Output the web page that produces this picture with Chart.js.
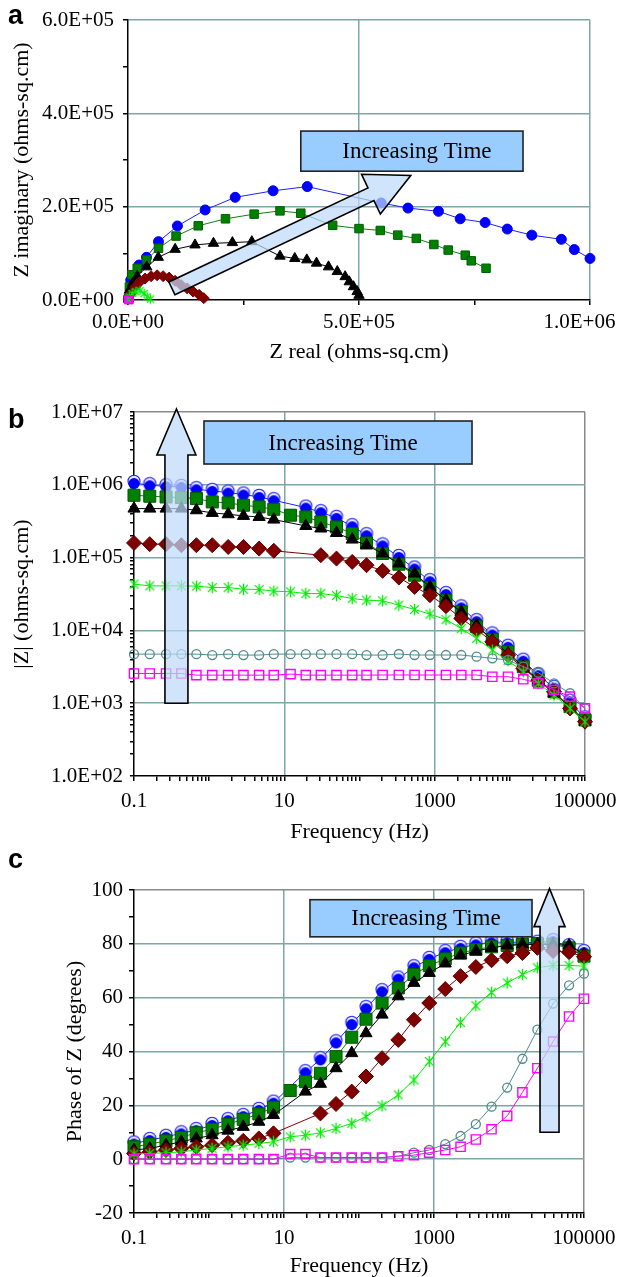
<!DOCTYPE html>
<html><head><meta charset="utf-8">
<script src="https://cdn.jsdelivr.net/npm/chart.js@4/dist/chart.umd.min.js"></script>
<style>
body{margin:0;background:#fff;width:624px;height:1277px;position:relative;overflow:hidden}
canvas{position:absolute;left:0}
.lbl{position:absolute;font:bold 27px Arial,"Liberation Sans",sans-serif;line-height:27px;color:#000}
</style></head><body>
<canvas id="ca" width="624" height="375" style="top:0px"></canvas>
<canvas id="cb" width="624" height="470" style="top:380px"></canvas>
<canvas id="cc" width="624" height="427" style="top:850px"></canvas>
<div class="lbl" style="left:8px;top:2px">a</div>
<div class="lbl" style="left:8px;top:406px">b</div>
<div class="lbl" style="left:8px;top:846px">c</div>
<script>
// ---------- DATA ----------
// Panel a (Nyquist): Z real / Z imaginary (ohms-sq.cm)
const blueRe  = [1000, 6000, 24000, 40000, 66000, 107000, 167000, 232000, 314000, 388000, 548000, 606000, 672000, 719000, 773000, 821000, 874000, 938000, 966000, 1000000];
const blueIm  = [5000, 43000, 75000, 91500, 125000, 158600, 193000, 220000, 234000, 243000, 208000, 197000, 190000, 174000, 166000, 152000, 139000, 130000, 108000, 89000];
const greenRe = [1000, 3000, 8000, 20000, 40000, 66000, 104000, 152000, 211000, 273000, 329000, 374000, 443000, 500000, 546000, 584000, 624000, 662000, 693000, 730000, 743000, 775000];
const greenIm = [3000, 28000, 54000, 68000, 86000, 111000, 137000, 159000, 174000, 184000, 191000, 186000, 160000, 153000, 149000, 139000, 132000, 119000, 107000, 96000, 84000, 68000];
const blackRe = [1000, 3000, 10000, 20000, 40500, 65600, 102000, 145000, 185000, 226000, 268000, 329000, 361000, 387000, 408000, 434000, 453000, 470000, 479000, 488000, 496000, 500000];
const blackIm = [2000, 21000, 36000, 51000, 71000, 91500, 108600, 118000, 121500, 123000, 125000, 94000, 89000, 86000, 79000, 71000, 61000, 50000, 39000, 28500, 18000, 10000];
const redRe   = [1000, 7000, 15600, 26000, 37000, 50000, 63000, 76000, 89000, 102000, 115000, 128000, 141000, 154000, 164000];
const redIm   = [2000, 14000, 28000, 39000, 46000, 51000, 53000, 51000, 48000, 41000, 32000, 25000, 18000, 11000, 4000];
const starRe  = [1000, 2600, 8700, 17000, 26000, 35000, 41500, 48500];
const starIm  = [1000, 7000, 14000, 18000, 20000, 14000, 7000, 2000];
const tealRe  = [300, 1500, 3000, 4200, 4700];
const tealIm  = [50, 1200, 1800, 1200, 300];
const magRe   = [200, 1200, 2200, 2500];
const magIm   = [50, 600, 500, 100];

// Panels b and c: frequency (Hz)
const freqHz = [0.1, 0.162, 0.267, 0.427, 0.676, 1.10, 1.79, 2.86, 4.62, 7.24, 12.1, 19.3, 30.6, 49.4, 80, 124, 203, 334, 540, 865, 1413, 2260, 3614, 5850, 9460, 15100, 23900, 38700, 63200, 100000];

// Panel b: |Z| (ohms-sq.cm)
const blueMod  = [1060000, 986000, 955000, 935000, 869000, 824000, 782000, 735000, 681000, 614000, null, 486000, 420000, 351000, 270000, 203000, 147000, 102000, 70800, 47400, 31500, 20700, 13400, 8790, 5960, 3830, 2430, 1630, 1050, 617];
const greenMod = [718000, 697000, 681000, 667000, 647000, 582000, 564000, 524000, 497000, 461000, 382000, 362000, 309000, 264000, 214000, 159000, 114000, 81100, 57300, 38800, 26000, 18000, 11200, 7520, 5080, 3170, 2070, 1440, 895, 589];
const blackMod = [471000, 471000, 471000, 471000, 447000, 411000, 394000, 374000, 362000, 333000, null, 272000, 251000, 218000, 177000, 148000, 114000, 83000, 60400, 39600, 26000, 18000, 11800, 7360, 4820, 3170, 2070, 1360, 895, 557];
const redMod   = [159000, 153000, 153000, 148000, 148000, 148000, 140000, 140000, 133000, 124000, null, null, 108000, 97000, 87300, 78700, 65800, 53200, 39600, 30500, 21500, 14600, 10300, 6980, 4580, 3010, 2070, 1440, 849, 557];
const starMod  = [43200, 40900, 40900, 40900, 40500, 38800, 38800, 36800, 36500, 34600, 33900, 32100, 32100, 30100, 27400, 26000, 25500, 22200, 19400, 16700, 14100, 10600, 7740, 5360, 3830, 2700, 1870, 1290, 849, 557];
const tealMod  = [4720, 4720, 4720, 4720, 4720, 4580, 4720, 4580, 4580, 4720, 4720, 4720, 4720, 4720, 4720, 4580, 4590, 4740, 4590, 4590, 4590, 4590, 4360, 4140, 3920, 3170, 2620, 1870, 1370, 851];
const magMod   = [2560, 2560, 2560, 2560, 2430, 2430, 2430, 2430, 2430, 2430, 2510, 2430, 2430, 2430, 2430, 2430, 2440, 2440, 2440, 2440, 2440, 2440, 2440, 2310, 2310, 2130, 1870, 1520, 1230, 851];

// Panel c: Phase of Z (degrees)
const bluePh  = [5.8, 7.1, 8.3, 9.6, 10.8, 12.7, 14.5, 16.0, 18.3, 21.0, null, 32.3, 37.1, 43.4, 50.2, 56.1, 62.4, 67.1, 71.3, 74.4, 76.9, 78.5, 79.8, 80.6, 80.6, 80.6, 80.4, 81.0, 79.1, 76.9];
const greenPh = [4.6, 5.6, 6.8, 8.1, 9.8, 11.1, 13.0, 14.8, 16.8, 19.3, 25.5, 28.8, 31.9, 38.1, 45.3, 52.0, 58.0, 63.6, 68.6, 71.9, 74.4, 76.6, 77.9, 78.9, 79.4, 79.8, 80.1, 79.8, 78.5, 75.4];
const blackPh = [3.4, 4.0, 5.2, 6.5, 7.7, 8.9, 10.6, 12.0, 13.9, 16.4, null, 25.1, 28.0, 33.8, 39.4, 46.8, 53.7, 60.5, 65.5, 69.2, 72.7, 75.7, 77.3, 78.5, 79.4, 79.8, 79.8, 79.8, 79.4, 76.0];
const redPh   = [2.1, 2.7, 3.4, 4.0, 4.6, 5.2, 6.1, 6.8, 7.7, 9.6, null, null, 17.0, 20.5, 25.1, 30.7, 37.5, 44.3, 51.8, 58.0, 63.2, 68.0, 71.4, 73.9, 75.4, 76.6, 78.5, 77.3, 76.9, 75.2];
const starPh  = [1.9, 2.1, 2.4, 2.7, 3.4, 4.0, 4.6, 5.2, 5.8, 6.5, 8.3, 8.9, 9.8, 11.4, 13.3, 15.8, 19.8, 23.9, 29.4, 36.3, 43.7, 50.8, 57.0, 62.0, 65.5, 68.6, 71.1, 72.0, 72.0, 71.7];
const tealPh  = [0, 0, 0, 0, 0, 0, 0, 0, 0, 0, 0.6, 0.6, 0.6, 0.6, 0.6, 0.6, 0.6, 1.1, 2.4, 3.4, 5.6, 8.6, 13.0, 19.5, 26.6, 37.3, 48.1, 57.8, 64.6, 68.9];
const magPh   = [0, 0, 0, 0, 0, 0, 0, 0, 0, 0, 1.9, 1.9, 0.6, 0.6, 0.6, 0.6, 0.6, 1.1, 1.5, 2.4, 3.4, 4.6, 7.3, 11.1, 16.1, 24.8, 33.8, 43.7, 53.0, 59.6];

// Tick labels
const freqLabels = [0.1, 10, 1000, 100000];
const freqGrid = [10, 1000];
const phaseLabels = [-20, 0, 20, 40, 60, 80, 100];

// Annotations (data coordinates)
const annA = {box: {x: [374000, 855000], y: [362000, 276000]}, arrow: {from: [95000, 25000], to: [612000, 267000], shaft: 14, headW: 44, head: 44}};
const annB = {box: {x: [0.853, 3140], y: [7520000, 1930000]}, arrow: {from: [0.367, 1000], to: [0.367, 11000000], shaft: 23, headW: 39, head: 46}};
const annC = {box: {x: [22.2, 20270], y: [96.4, 82.6]}, arrow: {from: [34700, 10], to: [34700, 100.5], shaft: 19, headW: 31, head: 38}};

// ---------- STYLE ----------
const SERIF = "'Liberation Serif','Times New Roman',serif";
Chart.defaults.font.family = SERIF;
Chart.defaults.font.size = 21;
Chart.defaults.color = '#000';
const TEAL_GRID = '#7ea6a6';
const EDGE = '#8a8a8a';

function fmtE(v) {
  if (v === 0) return '0.0E+00';
  let s = v.toExponential(1).toUpperCase();
  return s.replace(/E([+-])(\d)$/, 'E$10$2');
}
function near(a, b) { return Math.abs(a - b) <= Math.abs(b) * 1e-6 + 1e-12; }

function starMarker(size, color) {
  const c = document.createElement('canvas'); c.width = c.height = size;
  const g = c.getContext('2d'); g.strokeStyle = color; g.lineWidth = 1.3;
  const m = size / 2, r = size / 2 - 0.7, d = r * 0.75;
  g.beginPath();
  g.moveTo(m, m - r); g.lineTo(m, m + r);
  g.moveTo(m - d, m - d); g.lineTo(m + d, m + d);
  g.moveTo(m - d, m + d); g.lineTo(m + d, m - d);
  g.stroke();
  return c;
}
function blueMarker(r) {
  const s = Math.ceil(2 * r + 6); const c = document.createElement('canvas'); c.width = c.height = s;
  const g = c.getContext('2d'); const m = s / 2;
  g.beginPath(); g.arc(m, m - 1.8, r, 0, Math.PI * 2); g.fillStyle = '#e8e8ff'; g.fill();
  g.strokeStyle = '#1a1aff'; g.lineWidth = 1.1; g.stroke();
  g.beginPath(); g.arc(m, m + 0.6, r - 0.4, 0, Math.PI * 2); g.fillStyle = '#0000ff'; g.fill();
  return c;
}

function makeAnnot(cfg) {
  return {
    id: 'annot',
    afterDatasetsDraw(chart) {
      const xs = chart.scales.x, ys = chart.scales.y, ctx = chart.ctx;
      ctx.save();
      const a = cfg.arrow;
      const x0 = xs.getPixelForValue(a.from[0]), y0 = ys.getPixelForValue(a.from[1]);
      const x1 = xs.getPixelForValue(a.to[0]), y1 = ys.getPixelForValue(a.to[1]);
      const dx = x1 - x0, dy = y1 - y0, L = Math.hypot(dx, dy);
      const ux = dx / L, uy = dy / L, nx = -uy, ny = ux;
      const bx = x1 - ux * a.head, by = y1 - uy * a.head, w = a.shaft / 2, hw = a.headW / 2;
      ctx.beginPath();
      ctx.moveTo(x0 + nx * w, y0 + ny * w);
      ctx.lineTo(bx + nx * w, by + ny * w);
      ctx.lineTo(bx + nx * hw, by + ny * hw);
      ctx.lineTo(x1, y1);
      ctx.lineTo(bx - nx * hw, by - ny * hw);
      ctx.lineTo(bx - nx * w, by - ny * w);
      ctx.lineTo(x0 - nx * w, y0 - ny * w);
      ctx.closePath();
      ctx.fillStyle = 'rgba(190,218,250,0.72)'; ctx.fill();
      ctx.strokeStyle = '#000'; ctx.lineWidth = 1.6; ctx.lineJoin = 'miter'; ctx.stroke();
      const b = cfg.box;
      const bx0 = xs.getPixelForValue(b.x[0]), bx1 = xs.getPixelForValue(b.x[1]);
      const by0 = ys.getPixelForValue(b.y[0]), by1 = ys.getPixelForValue(b.y[1]);
      ctx.fillStyle = '#99ccff';
      ctx.fillRect(bx0, by0, bx1 - bx0, by1 - by0);
      ctx.strokeStyle = '#222'; ctx.lineWidth = 1.6;
      ctx.strokeRect(bx0, by0, bx1 - bx0, by1 - by0);
      ctx.fillStyle = '#000'; ctx.font = '23px ' + SERIF;
      ctx.textAlign = 'center'; ctx.textBaseline = 'middle';
      ctx.fillText('Increasing Time', (bx0 + bx1) / 2 + 5, (by0 + by1) / 2 + 1);
      ctx.restore();
    }
  };
}

function fixY(w) { return s => { s.width = w; s.paddingTop = 0; s.paddingBottom = 0; }; }
function fixX(h) { return s => { s.height = h; s.paddingLeft = 0; s.paddingRight = 0; }; }
function pairs(xs, ys) { return xs.map((x, i) => ({x, y: ys[i]})); }
function fser(ys) { return freqHz.map((f, i) => ({x: f, y: ys[i]})); }
function logTicks(e0, e1) {
  const t = [];
  for (let e = e0; e < e1; e++) for (let m = 1; m <= 9; m++) t.push(Number((m * Math.pow(10, e)).toPrecision(6)));
  t.push(Math.pow(10, e1));
  return t;
}
function ds(data, o) {
  return Object.assign({data, showLine: true, borderWidth: 1, clip: false, spanGaps: true, pointBorderWidth: 1, fill: false, tension: 0}, o);
}

const titleFont = {size: 22, family: SERIF};

// ---------- PANEL A ----------
new Chart(document.getElementById('ca'), {
  type: 'scatter',
  data: {datasets: [
    ds(pairs(blueRe, blueIm),   {order: 6, borderColor: '#2020ff', backgroundColor: '#0000ff', pointBackgroundColor: '#0000ff', pointBorderColor: '#0000ff', pointStyle: 'circle', pointRadius: 5}),
    ds(pairs(greenRe, greenIm), {order: 5, borderColor: '#108010', backgroundColor: '#008000', pointBackgroundColor: '#008000', pointBorderColor: '#006000', pointStyle: 'rect', pointRadius: 6}),
    ds(pairs(blackRe, blackIm), {order: 4, borderColor: '#000', backgroundColor: '#000', pointBackgroundColor: '#000', pointBorderColor: '#000', pointStyle: 'triangle', pointRadius: 6}),
    ds(pairs(redRe, redIm),     {order: 3, borderColor: '#800000', backgroundColor: '#800000', pointBackgroundColor: '#800000', pointBorderColor: '#800000', pointStyle: 'rectRot', pointRadius: 5.5}),
    ds(pairs(starRe, starIm),   {order: 2, borderColor: '#00ff00', backgroundColor: '#00ff00', pointStyle: starMarker(11, '#00ee00')}),
    ds(pairs(tealRe, tealIm),   {order: 1, borderColor: '#508c8c', backgroundColor: 'rgba(0,0,0,0)', pointBackgroundColor: 'rgba(0,0,0,0)', pointBorderColor: '#508c8c', pointStyle: 'circle', pointRadius: 3}),
    ds(pairs(magRe, magIm),     {order: 0, borderColor: '#ff00ff', backgroundColor: 'rgba(0,0,0,0)', pointBackgroundColor: 'rgba(0,0,0,0)', pointBorderColor: '#ff00ff', pointBorderWidth: 1.5, pointStyle: 'rect', pointRadius: 5})
  ]},
  options: {
    responsive: false, animation: false, devicePixelRatio: 1, events: [],
    layout: {padding: {left: 0, right: 34, top: 20, bottom: 0}},
    plugins: {legend: {display: false}, tooltip: {enabled: false}},
    scales: {
      x: {type: 'linear', min: 0, max: 1000000, afterFit: fixX(75),
        ticks: {stepSize: 250000, autoSkip: false, maxRotation: 0, padding: 5,
          callback: v => (v % 500000 === 0 ? (v === 1000000 ? fmtE(v) + '\u2002\u2002' : fmtE(v)) : '')},
        grid: {color: c => (c.tick && c.tick.value > 0 && c.tick.value % 500000 === 0 ? TEAL_GRID : 'rgba(0,0,0,0)'), lineWidth: 1.5, tickColor: '#000', tickLength: 5},
        border: {color: '#000', width: 1.5},
        title: {display: true, text: 'Z real (ohms-sq.cm)', font: titleFont, padding: {top: 0, bottom: 10}}},
      y: {type: 'linear', min: 0, max: 600000, afterFit: fixY(128),
        ticks: {stepSize: 100000, autoSkip: false, padding: 9, callback: v => (v % 200000 === 0 ? fmtE(v) : '')},
        grid: {color: c => (c.tick && c.tick.value > 0 && c.tick.value % 200000 === 0 ? TEAL_GRID : 'rgba(0,0,0,0)'), lineWidth: 1.5, tickColor: '#000', tickLength: 5},
        border: {color: '#000', width: 1.5},
        title: {display: true, text: 'Z imaginary (ohms-sq.cm)', font: titleFont, padding: {top: 9, bottom: 0}}}
    }
  },
  plugins: [makeAnnot(annA)]
});

// ---------- PANEL B ----------
const fTicks = logTicks(-1, 5);
const zTicks = logTicks(2, 7);
function freqAxis(h, pad, titlePad, titleLH) {
  return {type: 'logarithmic', min: 0.1, max: 100000, afterFit: fixX(h),
    afterBuildTicks: s => { s.ticks = fTicks.map(v => ({value: v})); },
    ticks: {autoSkip: false, maxRotation: 0, padding: pad, callback: v => { const l = freqLabels.find(t => near(v, t)); return l !== undefined ? String(l) : ''; }},
    grid: {color: c => { const v = c.tick ? c.tick.value : 0; if (freqGrid.some(t => near(v, t))) return TEAL_GRID; if (near(v, 100000)) return EDGE; return 'rgba(0,0,0,0)'; }, lineWidth: 1.5, tickColor: '#000', tickLength: 5},
    border: {color: '#000', width: 1.5},
    title: {display: true, text: 'Frequency (Hz)', font: Object.assign({lineHeight: titleLH}, titleFont), padding: titlePad}};
}
const big = {
  blue: m => ({order: 6, borderColor: '#2020ff', backgroundColor: '#0000ff', pointStyle: m}),
  green: {order: 5, borderColor: '#108010', backgroundColor: '#008000', pointBackgroundColor: '#008000', pointBorderColor: '#005800', pointStyle: 'rect', pointRadius: 8.5},
  black: {order: 4, borderColor: '#000', backgroundColor: '#000', pointBackgroundColor: '#000', pointBorderColor: '#000', pointStyle: 'triangle', pointRadius: 7},
  red: {order: 3, borderColor: '#800000', backgroundColor: '#800000', pointBackgroundColor: '#800000', pointBorderColor: '#600000', pointStyle: 'rectRot', pointRadius: 7.5},
  star: m => ({order: 2, borderColor: '#00ee00', backgroundColor: '#00ee00', pointStyle: m}),
  teal: {order: 1, borderColor: '#508c8c', backgroundColor: 'rgba(0,0,0,0)', pointBackgroundColor: 'rgba(0,0,0,0)', pointBorderColor: '#4f8a8a', pointBorderWidth: 1.3, pointStyle: 'circle', pointRadius: 4.5},
  mag: {order: 0, borderColor: '#ff00ff', backgroundColor: 'rgba(0,0,0,0)', pointBackgroundColor: 'rgba(0,0,0,0)', pointBorderColor: '#ff00ff', pointBorderWidth: 1.4, pointStyle: 'rect', pointRadius: 6.5}
};
const bm = blueMarker(6), sm = starMarker(13, '#00ee00');

new Chart(document.getElementById('cb'), {
  type: 'line',
  data: {datasets: [
    ds(fser(blueMod), big.blue(bm)),
    ds(fser(greenMod), big.green),
    ds(fser(blackMod), big.black),
    ds(fser(redMod), big.red),
    ds(fser(starMod), big.star(sm)),
    ds(fser(tealMod), big.teal),
    ds(fser(magMod), big.mag)
  ]},
  options: {
    responsive: false, animation: false, devicePixelRatio: 1, events: [],
    layout: {padding: {left: 0, right: 39, top: 32, bottom: 0}},
    plugins: {legend: {display: false}, tooltip: {enabled: false}},
    scales: {
      x: freqAxis(74, 8, {top: 0, bottom: 5}, 1.2),
      y: {type: 'logarithmic', min: 100, max: 10000000, afterFit: fixY(134),
        afterBuildTicks: s => { s.ticks = zTicks.map(v => ({value: v})); },
        ticks: {autoSkip: false, padding: 7, callback: v => { const e = Math.log10(v); return Math.abs(e - Math.round(e)) < 1e-6 ? fmtE(v) : ''; }},
        grid: {color: c => { const v = c.tick ? c.tick.value : 0; const e = Math.log10(v); if (Math.abs(e - Math.round(e)) > 1e-6) return 'rgba(0,0,0,0)'; if (near(v, 1e7)) return EDGE; if (v > 100) return TEAL_GRID; return 'rgba(0,0,0,0)'; }, lineWidth: 1.5, tickColor: '#000', tickLength: 4},
        border: {color: '#000', width: 1.5},
        title: {display: true, text: '|Z| (ohms-sq.cm)', font: titleFont, padding: {top: 9, bottom: 0}}}
    }
  },
  plugins: [makeAnnot(annB)]
});

// ---------- PANEL C ----------
new Chart(document.getElementById('cc'), {
  type: 'line',
  data: {datasets: [
    ds(fser(bluePh), big.blue(bm)),
    ds(fser(greenPh), big.green),
    ds(fser(blackPh), big.black),
    ds(fser(redPh), big.red),
    ds(fser(starPh), big.star(sm)),
    ds(fser(tealPh), big.teal),
    ds(fser(magPh), big.mag)
  ]},
  options: {
    responsive: false, animation: false, devicePixelRatio: 1, events: [],
    layout: {padding: {left: 0, right: 40, top: 40, bottom: 0}},
    plugins: {legend: {display: false}, tooltip: {enabled: false}},
    scales: {
      x: freqAxis(64, 8, {top: 0, bottom: 0}, 1.0),
      y: {type: 'linear', min: -20, max: 100, afterFit: fixY(134),
        ticks: {stepSize: 10, autoSkip: false, padding: 6, callback: v => (phaseLabels.includes(v) ? String(v) : '')},
        grid: {color: c => { const v = c.tick ? c.tick.value : 0; if (v === 100) return EDGE; if (v >= 0 && v <= 80 && v % 20 === 0) return TEAL_GRID; return 'rgba(0,0,0,0)'; }, lineWidth: 1.5, tickColor: '#000', tickLength: 5},
        border: {color: '#000', width: 1.5},
        title: {display: true, text: 'Phase of Z (degrees)', font: titleFont, padding: {top: 62, bottom: 0}}}
    }
  },
  plugins: [makeAnnot(annC)]
});
</script>
</body></html>
